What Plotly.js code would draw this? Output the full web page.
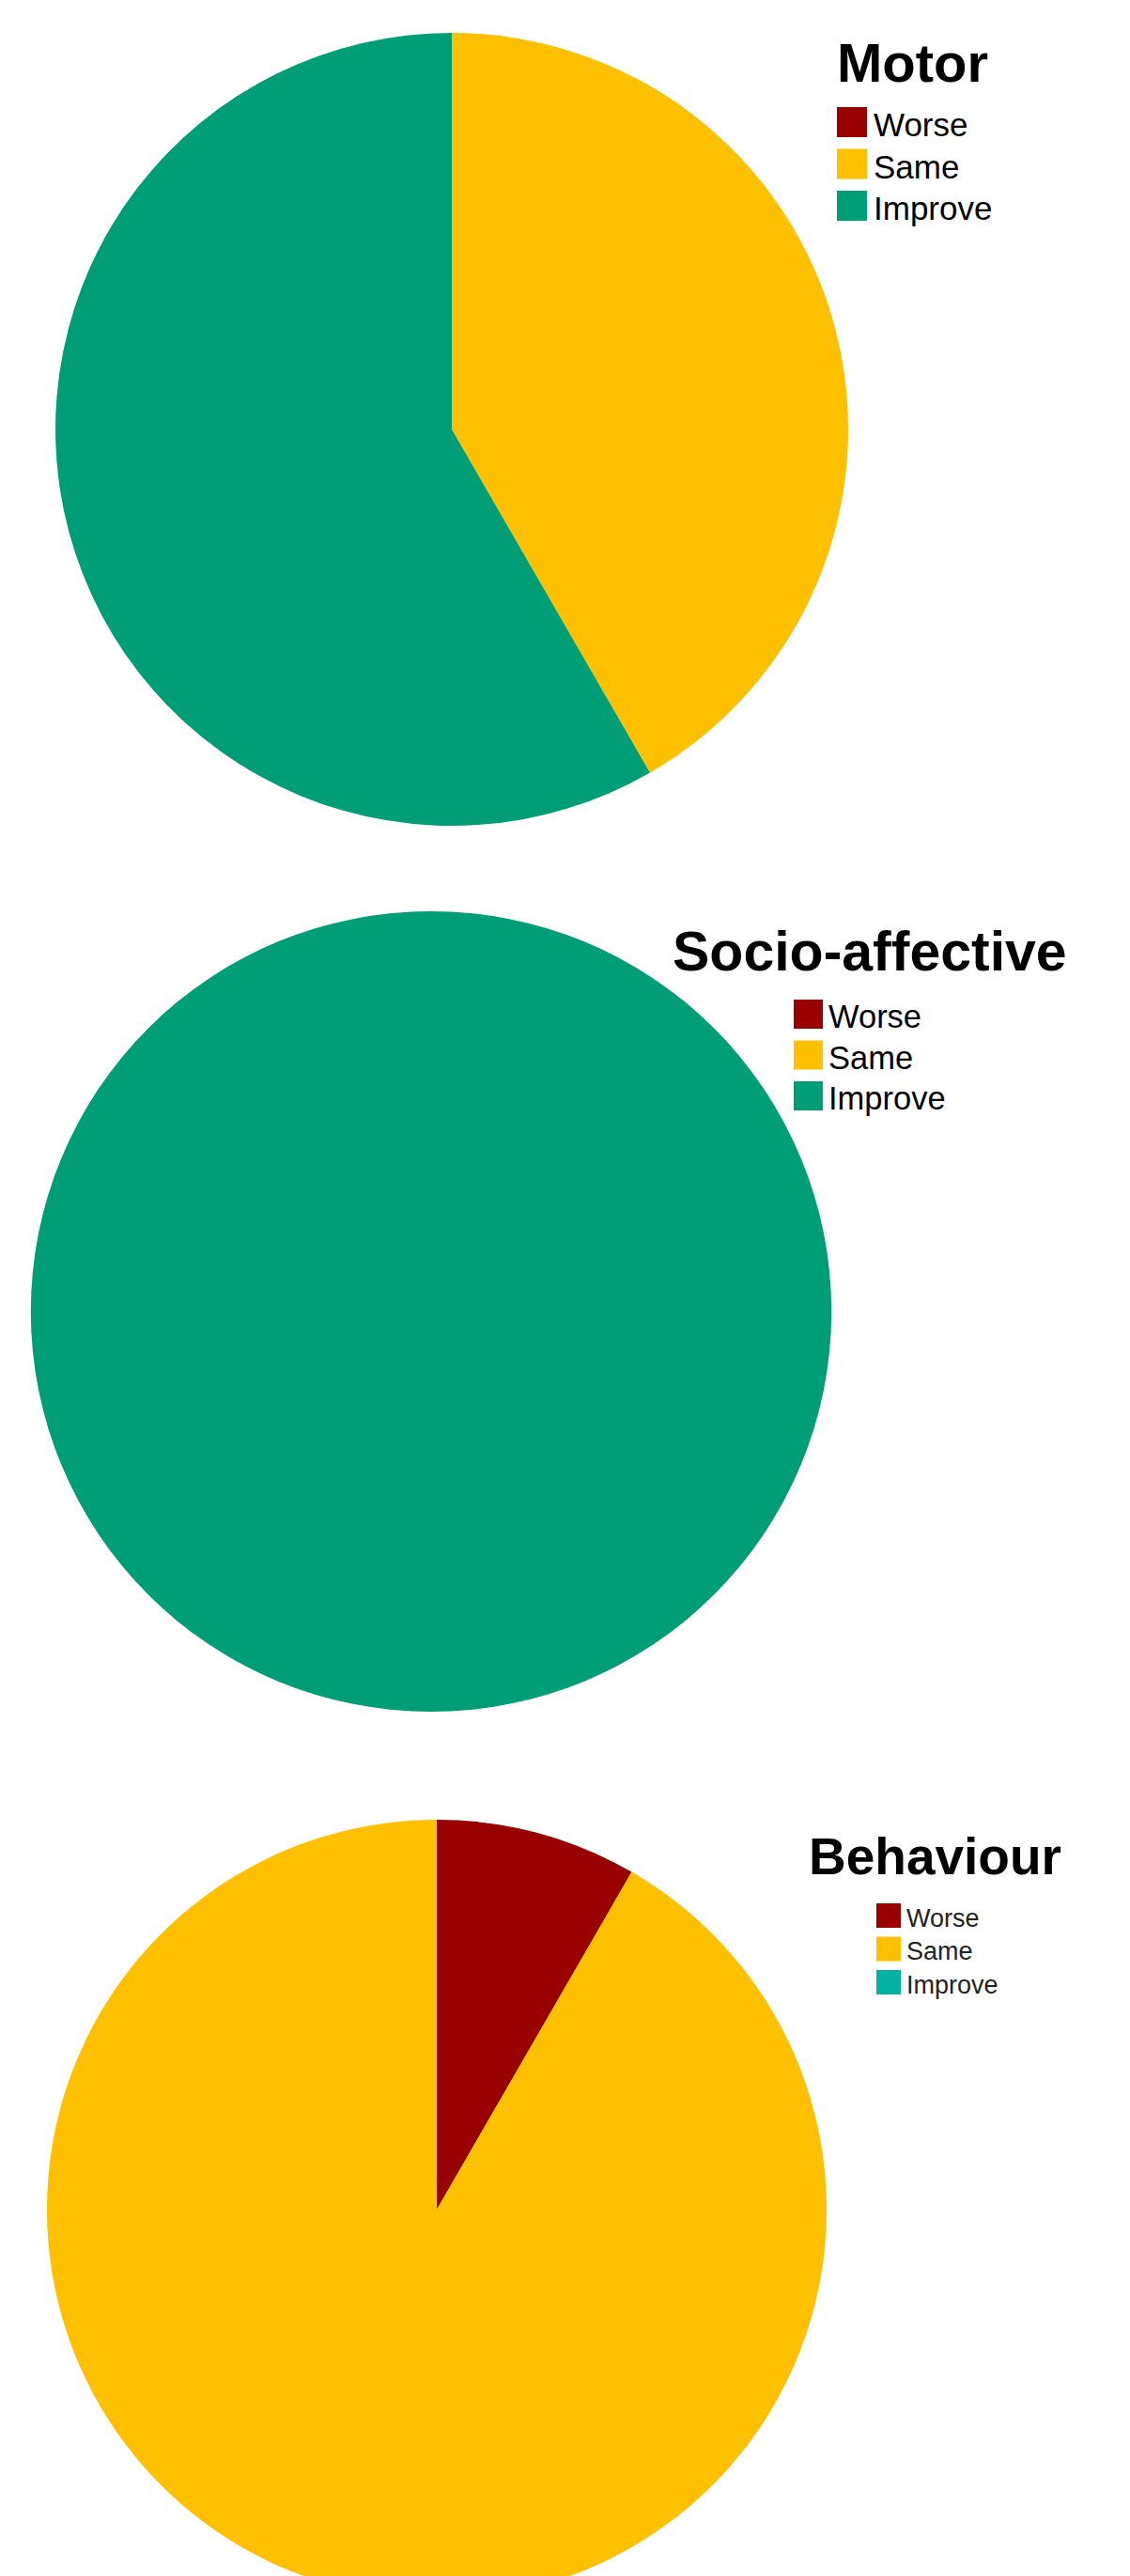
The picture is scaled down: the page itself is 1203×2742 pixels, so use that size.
<!DOCTYPE html>
<html>
<head>
<meta charset="utf-8">
<script src="https://cdn.plot.ly/plotly-3.0.1.min.js"></script>
<style>
  html, body { margin: 0; padding: 0; background: #ffffff; overflow: hidden; }
  #chart { width: 1203px; height: 2790px; }
</style>
</head>
<body>
<div id="chart"></div>
<script>
// ---- data ----
const categories = ["Worse", "Same", "Improve"];
const motorValues = [0, 5, 7];
const socioValues = [0, 0, 12];
const behaviourValues = [1, 11, 0];
const panelTitles = ["Motor", "Socio-affective", "Behaviour"];
const colorsA = ["#990000", "#FFC000", "#009E76"];
const colorsB = ["#990000", "#FFC000", "#00B2A0"];

// ---- layout helpers (pixel geometry) ----
const W = 1203, H = 2790;
const px2x = px => px / W;
const py2y = py => (H - py) / H;
function domainFromCircle(cx, cy, r) {
  return { x: [px2x(cx - r), px2x(cx + r)], y: [py2y(cy + r), py2y(cy - r)] };
}
const panels = [
  { values: motorValues, colors: colorsA, circle: [481, 457, 422],
    title: { px: 889, py: 66, size: 58 },
    legend: { sqLeft: 891, sqSize: 32, firstTop: 114, pitch: 44.5, textLeft: 928, size: 35, color: "#000000" } },
  { values: socioValues, colors: colorsA, circle: [459, 1396, 426],
    title: { px: 714, py: 1013, size: 59 },
    legend: { sqLeft: 845, sqSize: 31, firstTop: 1064, pitch: 43.5, textLeft: 880, size: 34.5, color: "#000000" } },
  { values: behaviourValues, colors: colorsB, circle: [465, 2352, 415],
    title: { px: 859, py: 1976, size: 55 },
    legend: { sqLeft: 933, sqSize: 26, firstTop: 2026, pitch: 35.5, textLeft: 963, size: 27, color: "#222222" } }
];

const font = "Liberation Sans, Arial, sans-serif";

const traces = panels.map(p => ({
  type: "pie",
  labels: categories,
  values: p.values,
  sort: false,
  direction: "clockwise",
  rotation: 0,
  textinfo: "none",
  hoverinfo: "label+value+percent",
  marker: { colors: p.colors, line: { width: 0 } },
  domain: domainFromCircle(...p.circle),
  showlegend: false
}));

const annotations = [];
const shapes = [];
panels.forEach((p, k) => {
  annotations.push({
    text: "<b>" + panelTitles[k] + "</b>",
    xref: "paper", yref: "paper",
    x: px2x(p.title.px), y: py2y(p.title.py),
    xanchor: "left", yanchor: "middle",
    showarrow: false,
    font: { family: font, size: p.title.size, color: "#000000" }
  });
  const L = p.legend;
  categories.forEach((cat, i) => {
    const top = L.firstTop + i * L.pitch;
    shapes.push({
      type: "rect", xref: "paper", yref: "paper",
      x0: px2x(L.sqLeft), x1: px2x(L.sqLeft + L.sqSize),
      y0: py2y(top + L.sqSize), y1: py2y(top),
      fillcolor: p.colors[i], line: { width: 0 }
    });
    annotations.push({
      text: cat,
      xref: "paper", yref: "paper",
      x: px2x(L.textLeft), y: py2y(top + L.sqSize / 2 + 2.5),
      xanchor: "left", yanchor: "middle",
      showarrow: false,
      font: { family: font, size: L.size, color: L.color }
    });
  });
});

const layout = {
  width: W, height: H,
  margin: { l: 0, r: 0, t: 0, b: 0, pad: 0 },
  paper_bgcolor: "#ffffff",
  plot_bgcolor: "#ffffff",
  showlegend: false,
  annotations: annotations,
  shapes: shapes
};

Plotly.newPlot("chart", traces, layout, { displayModeBar: false, staticPlot: true });
</script>
</body>
</html>
